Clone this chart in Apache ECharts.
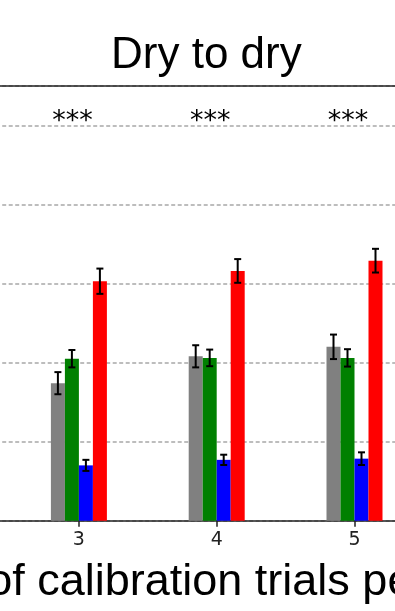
<!DOCTYPE html>
<html>
<head>
<meta charset="utf-8">
<script src="https://cdn.jsdelivr.net/npm/echarts@6/dist/echarts.min.js"></script>
<style>
html,body{margin:0;padding:0;background:#fff;}
#chart{width:395px;height:611px;}
</style>
</head>
<body>
<div id="chart"></div>
<script>
// ---- data ----
var categories = ['3', '4', '5'];
var grayVals  = [1.74, 2.08, 2.20];
var grayErr   = [0.14, 0.14, 0.155];
var greenVals = [2.05, 2.06, 2.06];
var greenErr  = [0.11, 0.105, 0.11];
var blueVals  = [0.70, 0.77, 0.785];
var blueErr   = [0.07, 0.065, 0.08];
var redVals   = [3.03, 3.16, 3.29];
var redErr    = [0.16, 0.15, 0.15];
var sigLabels = ['***', '***', '***'];
var sigLevel  = [5.04, 5.04, 5.04];
var titleText = 'Dry to dry';
var xLabelText = 'of calibration trials pe';

// ---- style ----
var BAR_W = 14;
var colors = ['#808080', '#008000', '#0000ff', '#ff0000'];
var offsets = [-1.5, -0.5, 0.5, 1.5];

function barSeries(vals, k) {
  return {
    type: 'bar', data: vals, barWidth: BAR_W, barGap: '0%',
    itemStyle: { color: colors[k] }, z: 2, silent: true
  };
}
function errSeries(vals, errs, k) {
  var data = vals.map(function (v, i) { return [i, v, errs[i]]; });
  return {
    type: 'custom', z: 5, silent: true,
    data: data,
    renderItem: function (params, api) {
      var ci = api.value(0), v = api.value(1), e = api.value(2);
      var p1 = api.coord([ci, v + e]);
      var p2 = api.coord([ci, v - e]);
      var x = p1[0] + offsets[k] * BAR_W;
      var cap = 3.5;
      var st = { stroke: '#000', lineWidth: 2 };
      return {
        type: 'group', children: [
          { type: 'line', shape: { x1: x, y1: p1[1], x2: x, y2: p2[1] }, style: st },
          { type: 'line', shape: { x1: x - cap, y1: p1[1], x2: x + cap, y2: p1[1] }, style: st },
          { type: 'line', shape: { x1: x - cap, y1: p2[1], x2: x + cap, y2: p2[1] }, style: st }
        ]
      };
    }
  };
}
var sigSeries = {
  type: 'custom', z: 6, silent: true,
  data: sigLabels.map(function (s, i) { return [i, sigLevel[i], s]; }),
  renderItem: function (params, api) {
    var p = api.coord([api.value(0), api.value(1)]);
    return {
      type: 'text', x: p[0] - 6.5, y: p[1],
      style: {
        text: sigLabels[params.dataIndex], fill: '#000',
        font: '27px "DejaVu Sans", sans-serif',
        align: 'center', verticalAlign: 'middle'
      }
    };
  }
};

var chart = echarts.init(document.getElementById('chart'), null, { renderer: 'canvas' });
chart.setOption({
  animation: false,
  backgroundColor: '#fff',
  title: {
    text: titleText, left: 106, top: 29,
    textStyle: { fontFamily: '"Liberation Sans", Arial, sans-serif', fontSize: 44, fontWeight: 'normal', color: '#000' }
  },
  grid: { left: -127.8, right: -28.4, top: 86, bottom: 90.3, show: false, containLabel: false, outerBoundsMode: 'none' },
  xAxis: [{
    type: 'category', data: categories, position: 'bottom', min: -1,
    axisLine: { show: true, lineStyle: { color: '#222', width: 1.5 } },
    axisTick: { show: true, alignWithLabel: true, length: 6, lineStyle: { color: '#222', width: 1.5 } },
    axisLabel: { margin: 10, fontFamily: '"DejaVu Sans", sans-serif', fontSize: 19, color: '#222' },
    name: xLabelText, nameLocation: 'middle', nameGap: 39,
    nameTextStyle: { fontFamily: '"Liberation Sans", Arial, sans-serif', fontSize: 45, color: '#000', padding: [0, 0, 0, 104] },
    splitLine: { show: false }
  }, {
    type: 'category', data: categories, position: 'top', min: -1,
    axisLine: { show: true, lineStyle: { color: '#222', width: 1.5 } },
    axisTick: { show: false }, axisLabel: { show: false }, splitLine: { show: false }
  }],
  yAxis: {
    type: 'value', min: 0, max: 5.5, interval: 1,
    axisLine: { show: false }, axisTick: { show: false }, axisLabel: { show: false },
    splitLine: { show: true, lineStyle: { color: '#a8a8a8', type: [4, 2.5], width: 1.5 } }
  },
  series: [
    barSeries(grayVals, 0), barSeries(greenVals, 1), barSeries(blueVals, 2), barSeries(redVals, 3),
    errSeries(grayVals, grayErr, 0), errSeries(greenVals, greenErr, 1),
    errSeries(blueVals, blueErr, 2), errSeries(redVals, redErr, 3),
    sigSeries
  ]
});
</script>
</body>
</html>
